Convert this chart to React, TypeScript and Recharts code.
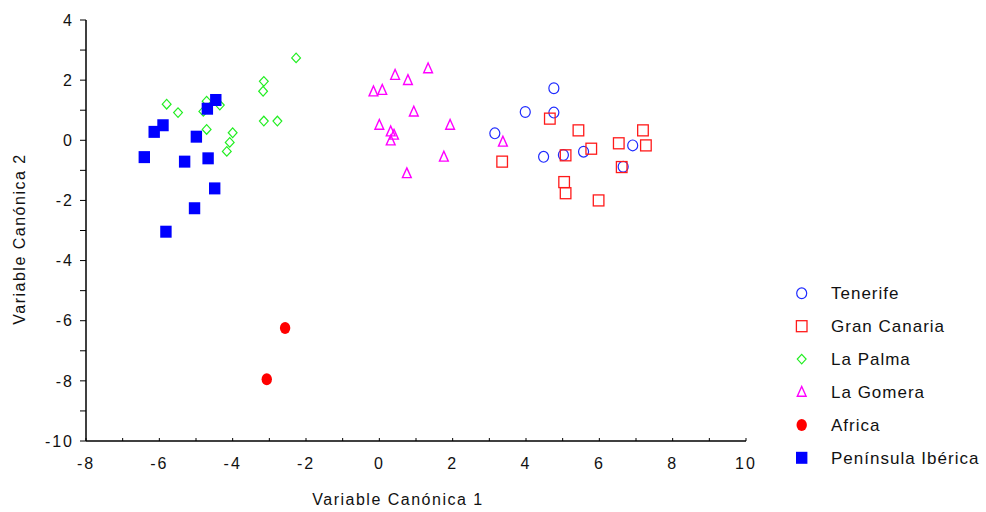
import React from 'react';
import { ScatterChart, Scatter, XAxis, YAxis, Legend } from 'recharts';

const xTicks = [-8, -7, -6, -5, -4, -3, -2, -1, 0, 1, 2, 3, 4, 5, 6, 7, 8, 9, 10];
const yTicks = [-10, -9, -8, -7, -6, -5, -4, -3, -2, -1, 0, 1, 2, 3, 4];

const tenerife = [
  { x: 3.15, y: 0.23 }, { x: 4.76, y: 1.73 }, { x: 3.98, y: 0.94 }, { x: 4.76, y: 0.92 },
  { x: 4.48, y: -0.55 }, { x: 5.02, y: -0.49 }, { x: 5.57, y: -0.38 }, { x: 6.91, y: -0.17 },
  { x: 6.65, y: -0.88 },
];
const granCanaria = [
  { x: 4.65, y: 0.72 }, { x: 5.43, y: 0.33 }, { x: 7.19, y: 0.33 }, { x: 5.78, y: -0.28 },
  { x: 6.53, y: -0.1 }, { x: 7.27, y: -0.17 }, { x: 5.08, y: -0.5 }, { x: 3.35, y: -0.71 },
  { x: 6.61, y: -0.89 }, { x: 5.04, y: -1.39 }, { x: 5.08, y: -1.76 }, { x: 5.98, y: -2.0 },
];
const laPalma = [
  { x: -2.27, y: 2.74 }, { x: -3.15, y: 1.96 }, { x: -3.17, y: 1.63 }, { x: -5.8, y: 1.2 },
  { x: -5.49, y: 0.92 }, { x: -4.71, y: 1.3 }, { x: -4.35, y: 1.17 }, { x: -4.8, y: 0.96 },
  { x: -4.71, y: 0.36 }, { x: -4.0, y: 0.25 }, { x: -4.08, y: -0.07 }, { x: -4.16, y: -0.37 },
  { x: -3.15, y: 0.64 }, { x: -2.78, y: 0.64 },
];
const laGomera = [
  { x: 1.33, y: 2.39 }, { x: 0.43, y: 2.17 }, { x: 0.78, y: 2.0 }, { x: -0.16, y: 1.62 },
  { x: 0.08, y: 1.67 }, { x: 0.94, y: 0.95 }, { x: 0.0, y: 0.51 }, { x: 1.93, y: 0.51 },
  { x: 0.31, y: 0.29 }, { x: 0.4, y: 0.18 }, { x: 0.31, y: -0.01 }, { x: 3.37, y: -0.05 },
  { x: 1.76, y: -0.55 }, { x: 0.75, y: -1.1 },
];
const africa = [{ x: -2.57, y: -6.24 }, { x: -3.07, y: -7.95 }];
const iberica = [
  { x: -4.46, y: 1.34 }, { x: -4.69, y: 1.05 }, { x: -5.9, y: 0.5 }, { x: -6.14, y: 0.28 },
  { x: -4.99, y: 0.12 }, { x: -6.41, y: -0.56 }, { x: -5.31, y: -0.71 }, { x: -4.67, y: -0.6 },
  { x: -4.49, y: -1.6 }, { x: -5.04, y: -2.26 }, { x: -5.82, y: -3.04 },
];

const seriesNames = ['Tenerife', 'Gran Canaria', 'La Palma', 'La Gomera', 'Africa', 'Península Ibérica'];
const seriesColors = ['#1f2bff', '#ff1a1a', '#22ee22', '#ff00ff', '#ff0000', '#0000ff'];
const seriesKinds = ['circle', 'square', 'diamond', 'triangle', 'dot', 'filledSquare'];
const seriesData = [tenerife, granCanaria, laPalma, laGomera, africa, iberica];

const FONT = '"Liberation Sans", Arial, sans-serif';

function drawSymbol(kind: string, color: string, cx: number, cy: number, key?: any) {
  switch (kind) {
    case 'circle':
      return <ellipse key={key} cx={cx} cy={cy} rx={5} ry={5.4} fill="none" stroke={color} strokeWidth={1.2} />;
    case 'square':
      return <rect key={key} x={cx - 5.3} y={cy - 5.5} width={10.6} height={11} fill="none" stroke={color} strokeWidth={1.3} />;
    case 'diamond':
      return (
        <polygon key={key} points={`${cx},${cy - 4.8} ${cx + 4.4},${cy} ${cx},${cy + 4.8} ${cx - 4.4},${cy}`}
          fill="none" stroke={color} strokeWidth={1.2} />
      );
    case 'triangle':
      return (
        <polygon key={key} points={`${cx},${cy - 5.5} ${cx + 4.4},${cy + 4.3} ${cx - 4.4},${cy + 4.3}`}
          fill="none" stroke={color} strokeWidth={1.4} />
      );
    case 'dot':
      return <ellipse key={key} cx={cx} cy={cy} rx={5.2} ry={6} fill={color} />;
    default:
      return <rect key={key} x={cx - 5.7} y={cy - 6} width={11.4} height={12} fill={color} />;
  }
}

const makeShape = (kind: string, color: string) => (props: any) => drawSymbol(kind, color, props.cx, props.cy);

const renderLegend = () => (
  <svg width={226} height={210} style={{ overflow: 'visible', display: 'block' }}>
    {seriesNames.map((name, i) => {
      const cy = 23.3 + i * 32.9;
      return (
        <g key={name}>
          {drawSymbol(seriesKinds[i], seriesColors[i], 41.7, cy)}
          <text x={71} y={cy + 6} fontSize={17} fontFamily={FONT} letterSpacing={1} fill="#111">
            {name}
          </text>
        </g>
      );
    })}
  </svg>
);

const evenFmt = (v: number) => (v % 2 === 0 ? String(v) : '');
const blankFmt = () => '';

export default function App() {
  return (
    <div style={{ position: 'absolute', left: 0, top: 0, background: '#fff' }}>
      <ScatterChart width={986} height={512} margin={{ top: 20, right: 240, bottom: 31, left: 46 }}>
        <XAxis
          xAxisId="b" type="number" dataKey="x" domain={[-8, 10]} ticks={xTicks} interval={0}
          allowDataOverflow orientation="bottom" height={40}
          tickFormatter={evenFmt} tickSize={-3} tickMargin={20}
          tick={{ fontSize: 16, fill: '#111', fontFamily: FONT, letterSpacing: 2 }}
          axisLine={{ stroke: '#000', strokeWidth: 1.5 }} tickLine={{ stroke: '#000' }}
          label={() => (
            <text x={398} y={505} textAnchor="middle" fontSize={16} fontFamily={FONT} letterSpacing={1.5} fill="#111">
              Variable Canónica 1
            </text>
          )}
        />
        <XAxis
          xAxisId="t" type="number" dataKey="x" domain={[-8, 10]} ticks={xTicks} interval={0}
          allowDataOverflow orientation="top" height={0} tickFormatter={blankFmt} tickSize={-3}
          axisLine={{ stroke: '#888', strokeWidth: 1.5 }} tickLine={{ stroke: '#000' }}
        />
        <YAxis
          yAxisId="l" type="number" dataKey="y" domain={[-10, 4]} ticks={yTicks} interval={0}
          allowDataOverflow orientation="left" width={40}
          tickFormatter={evenFmt} tickSize={6} tickMargin={6}
          tick={{ fontSize: 16, fill: '#111', fontFamily: FONT, letterSpacing: 2 }}
          axisLine={{ stroke: '#000', strokeWidth: 1.5 }} tickLine={{ stroke: '#000' }}
          label={() => (
            <text x={25} y={239} transform="rotate(-90 25 239)" textAnchor="middle" fontSize={16}
              fontFamily={FONT} letterSpacing={1.5} fill="#111">
              Variable Canónica 2
            </text>
          )}
        />
        <YAxis
          yAxisId="r" type="number" dataKey="y" domain={[-10, 4]} ticks={yTicks} interval={0}
          allowDataOverflow orientation="right" width={0} tickFormatter={blankFmt} tickSize={-3}
          axisLine={{ stroke: '#888', strokeWidth: 1.5 }} tickLine={{ stroke: '#000' }}
        />
        {seriesData.map((data, i) => (
          <Scatter
            key={seriesNames[i]} name={seriesNames[i]} data={data} xAxisId="b" yAxisId="l"
            fill={seriesColors[i]} shape={makeShape(seriesKinds[i], seriesColors[i])}
            isAnimationActive={false}
          />
        ))}
        <Legend
          layout="horizontal" verticalAlign="middle" align="center" content={renderLegend}
          wrapperStyle={{ position: 'absolute', left: 760, top: 270, width: 226, height: 210 }}
        />
      </ScatterChart>
    </div>
  );
}
